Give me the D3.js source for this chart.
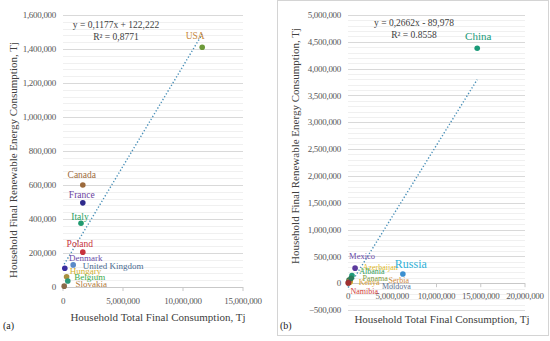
<!DOCTYPE html>
<html><head><meta charset="utf-8">
<script src="https://cdn.jsdelivr.net/npm/d3@7"></script>
<style>
html,body{margin:0;padding:0;background:#fff;}
svg text{font-family:"Liberation Serif","DejaVu Serif",serif;}
</style></head>
<body><svg id="c" width="550" height="341"></svg>
<script>
// ---- Panel (a) data ----
const countriesA = ["USA","Canada","France","Italy","Poland","Denmark","United Kingdom","Hungary","Belgium","Slovakia"];
const totalA     = [11600000,1650000,1650000,1500000,1650000,150000,850000,300000,400000,100000];
const renewA     = [1410000,600000,495000,375000,205000,110000,130000,60000,35000,5000];
const yTicksA    = [0,200000,400000,600000,800000,1000000,1200000,1400000,1600000];
const xTicksA    = [0,5000000,10000000,15000000];
const eqA        = ["y = 0,1177x + 122,222","R² = 0,8771"];
const trendA     = [0.1177, 122222];

// ---- Panel (b) data ----
const countriesB = ["China","Mexico","Azerbaijan","Russia","Albania","Panama","Serbia","Kenya","Moldova","Namibia"];
const totalB     = [14600000,800000,250000,6200000,450000,120000,200000,350000,50000,30000];
const renewB     = [4380000,280000,20000,170000,140000,60000,40000,90000,10000,5000];
const yTicksB    = [-500000,0,500000,1000000,1500000,2000000,2500000,3000000,3500000,4000000,4500000,5000000];
const xTicksB    = [0,5000000,10000000,15000000,20000000];
const eqB        = ["y = 0,2662x - 89,978","R² = 0.8558"];
const trendB     = [0.2662, -89978];

// ---- styling (not data) ----
const styleA = [
 {pt:"#6d9a3a",lb:"#c8873a",dx:-7,dy:-12},
 {pt:"#9c6a3c",lb:"#9c6a3c",dx:-1,dy:-10},
 {pt:"#2e2a8c",lb:"#6a3fa0",dx:-1,dy:-8},
 {pt:"#1f9a70",lb:"#2aa060",dx:-1,dy:-7},
 {pt:"#c8323c",lb:"#c8323c",dx:-3,dy:-8},
 {pt:"#3a2ea0",lb:"#6a4aa8",dx:21,dy:-10,fs:9},
 {pt:"#5a8ac8",lb:"#4a6a90",dx:40,dy:1,fs:9},
 {pt:"#a89040",lb:"#d4b030",dx:19,dy:-6,fs:9},
 {pt:"#2a9a7a",lb:"#3aaa4a",dx:22,dy:-4,fs:9},
 {pt:"#8a6a4a",lb:"#b07a3a",dx:27,dy:-2,fs:9}
];
const styleB = [
 {pt:"#1a9a78",lb:"#1a9a78",dx:1,dy:-12,fs:11},
 {pt:"#5b3a9c",lb:"#6a4aa8",dx:7,dy:-12,fs:8.5},
 {pt:"#e0b92a",lb:"#e0b92a",dx:30,dy:-15,fs:8},
 {pt:"#3b8fd0",lb:"#30b0d8",dx:8,dy:-10,fs:12},
 {pt:"#1f9c7a",lb:"#2e9c5a",dx:20,dy:-4,fs:8},
 {pt:"#3a7a4a",lb:"#7f9a3a",dx:26,dy:-2,fs:8},
 {pt:"#c07a3a",lb:"#d08a3c",dx:49,dy:-1,fs:8},
 {pt:"#2b7a5a",lb:"#d8a032",dx:18,dy:4,fs:8},
 {pt:"#555555",lb:"#5a6f8f",dx:48,dy:4,fs:8},
 {pt:"#a03030",lb:"#d03a3a",dx:16,dy:8,fs:8}
];

const svg = d3.select("#c");
const fmt = d3.format(",");

function panel(o){
  const g = svg.append("g");
  const x = d3.scaleLinear().domain(o.xd).range(o.xr);
  const y = d3.scaleLinear().domain(o.yd).range(o.yr);
  const step = o.yTicks[1]-o.yTicks[0];
  const minor = d3.range(o.yd[0], o.yd[1]+1, step/5).filter(v=>!o.yTicks.includes(v));
  g.selectAll(".mn").data(minor).join("line")
   .attr("x1",o.xr[0]).attr("x2",o.xr[1]).attr("y1",d=>Math.round(y(d))+0.5).attr("y2",d=>Math.round(y(d))+0.5)
   .attr("stroke","#f0f0f0").attr("stroke-width",1);
  g.selectAll(".mj").data(o.yTicks).join("line")
   .attr("x1",o.xr[0]).attr("x2",o.xr[1]).attr("y1",d=>Math.round(y(d))+0.5).attr("y2",d=>Math.round(y(d))+0.5)
   .attr("stroke",d=>d===0?"#c8c8c8":"#d9d9d9").attr("stroke-width",1);
  g.selectAll(".yt").data(o.yTicks).join("text")
   .attr("x",o.xr[0]-7).attr("y",d=>y(d)).attr("dy","0.35em")
   .attr("text-anchor","end").attr("font-size",9).attr("fill","#595959")
   .attr("letter-spacing","-0.3").text(d=>fmt(d));
  const y0 = y(0);
  g.selectAll(".xk").data(o.xTicks).join("line")
   .attr("x1",d=>x(d)).attr("x2",d=>x(d)).attr("y1",y0).attr("y2",y0+4)
   .attr("stroke","#c8c8c8");
  g.selectAll(".xt").data(o.xTicks).join("text")
   .attr("x",d=>x(d)).attr("y",o.xLabY).attr("dy","0.35em")
   .attr("text-anchor","middle").attr("font-size",9).attr("fill","#595959")
   .attr("letter-spacing","-0.3").text(d=>fmt(d));
  const xs = [d3.min(o.tx), d3.max(o.tx)];
  g.append("line")
   .attr("x1",x(xs[0])).attr("y1",y(o.trend[0]*xs[0]+o.trend[1]))
   .attr("x2",x(xs[1])).attr("y2",y(o.trend[0]*xs[1]+o.trend[1]))
   .attr("stroke","#4a90b8").attr("stroke-width",1.4).attr("stroke-dasharray","1.3,2");
  g.selectAll(".eq").data(o.eq).join("text")
   .attr("x",o.eqX).attr("y",(d,i)=>o.eqY+i*12)
   .attr("text-anchor","middle").attr("font-size",9.5).attr("fill","#404040").text(d=>d);
  const pts = o.names.map((n,i)=>({n, x:o.tx[i], y:o.ty[i], s:o.st[i]}));
  g.selectAll(".pt").data(pts).join("circle")
   .attr("cx",d=>x(d.x)).attr("cy",d=>y(d.y)).attr("r",2.8)
   .attr("fill",d=>d.s.pt);
  g.selectAll(".lb").data(pts).join("text")
   .attr("x",d=>x(d.x)+d.s.dx).attr("y",d=>y(d.y)+d.s.dy).attr("dy","0.35em")
   .attr("text-anchor","middle").attr("font-size",d=>d.s.fs||9.5).attr("fill",d=>d.s.lb).text(d=>d.n);
  g.append("text").attr("x",o.xTitle[0]).attr("y",o.xTitle[1]).attr("text-anchor","middle")
   .attr("font-size",11).attr("fill","#404040").text("Household Total Final Consumption, Tj");
  g.append("text").attr("transform",`translate(${o.yTitle[0]},${o.yTitle[1]}) rotate(-90)`)
   .attr("text-anchor","middle").attr("dy","0.35em")
   .attr("font-size",11).attr("fill","#404040").text("Household Final Renewable Energy Consumption, Tj");
  g.append("text").attr("x",o.tag[0]).attr("y",o.tag[1]).attr("font-size",10).attr("fill","#222").text(o.tagText);
}

svg.append("rect").attr("x",277.5).attr("y",0.5).attr("width",271).attr("height",335)
  .attr("fill","none").attr("stroke","#d4d4d4");

panel({xd:[0,15000000], xr:[63,243], yd:[0,1600000], yr:[287,15],
  yTicks:yTicksA, xTicks:xTicksA, xLabY:301, tx:totalA, ty:renewA, names:countriesA, st:styleA,
  trend:trendA, eq:eqA, eqX:116, eqY:28, xTitle:[158,321], yTitle:[13,160], tag:[3,329], tagText:"(a)"});

panel({xd:[0,20000000], xr:[348,525], yd:[-500000,5000000], yr:[310,15],
  yTicks:yTicksB, xTicks:xTicksB, xLabY:296, tx:totalB, ty:renewB, names:countriesB, st:styleB,
  trend:trendB, eq:eqB, eqX:414, eqY:26, xTitle:[442,323], yTitle:[295,146], tag:[280,329], tagText:"(b)"});
</script></body></html>
